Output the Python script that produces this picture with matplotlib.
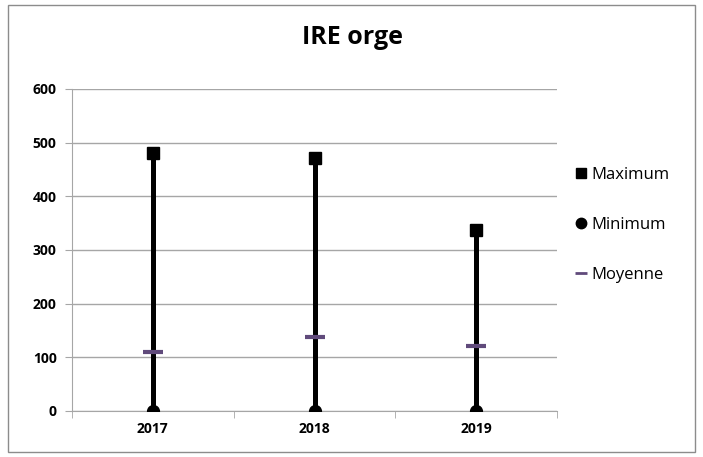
import matplotlib.pyplot as plt
from matplotlib.lines import Line2D
from matplotlib.patches import Rectangle

plt.rcParams['font.family'] = ['Open Sans', 'DejaVu Sans']

years = ['2017', '2018', '2019']
maximum = [481, 471, 337]
minimum = [0, 0, 0]
moyenne = [110, 138, 122]

GRID = '#a6a6a6'
PURPLE = '#604a7b'

fig = plt.figure(figsize=(7.03, 4.57), dpi=100)
fig.patches.append(Rectangle((8 / 703, 5 / 457), 687 / 703, 447 / 457,
                             transform=fig.transFigure, fill=False,
                             edgecolor='#8c8c8c', linewidth=1))
ax = fig.add_axes([72 / 703, 1 - 411 / 457, 485 / 703, 322 / 457])

x = list(range(len(years)))
ax.vlines(x, minimum, maximum, color='black', linewidth=3.6, zorder=3)
ax.plot(x, maximum, 's', color='black', markersize=8.5, zorder=4)
ax.plot(x, minimum, 'o', color='black', markersize=8.5, zorder=4)
ax.plot(x, moyenne, '_', color=PURPLE, markersize=14, mew=3, zorder=5)

ax.set_xlim(-0.5, len(years) - 0.5)
ax.set_ylim(0, 600)
ax.set_yticks(range(0, 601, 100))
ax.yaxis.grid(True, color=GRID, linewidth=1)
ax.set_axisbelow(True)

ax.set_xticks(x)
ax.set_xticklabels(years, fontweight='bold', fontsize=10)
ax.set_xticks([-0.5, 0.5, 1.5, 2.5], minor=True)
ax.tick_params(axis='x', which='major', length=0, pad=8)
ax.tick_params(axis='x', which='minor', length=5, color=GRID)
ax.tick_params(axis='y', length=5, color=GRID, labelsize=10, pad=6)
for lab in ax.get_yticklabels():
    lab.set_fontweight('bold')

for side in ['top', 'right']:
    ax.spines[side].set_visible(False)
for side in ['left', 'bottom']:
    ax.spines[side].set_color(GRID)

fig.text(352 / 703, 1 - 37 / 457, 'IRE orge', ha='center', va='center',
         fontsize=18, fontweight='bold')

handles = [
    Line2D([], [], marker='s', color='black', linestyle='none', markersize=7.5),
    Line2D([], [], marker='o', color='black', linestyle='none', markersize=7.5),
    Line2D([], [], marker='_', color=PURPLE, linestyle='none', markersize=9, mew=2),
]
fig.legend(handles, ['Maximum', 'Minimum', 'Moyenne'],
           loc='center left', bbox_to_anchor=(560 / 703, 1 - 225 / 457),
           frameon=False, fontsize=12, labelspacing=2.05,
           handlelength=0.7, handletextpad=0.3)

fig.savefig('out.png', dpi=100)
